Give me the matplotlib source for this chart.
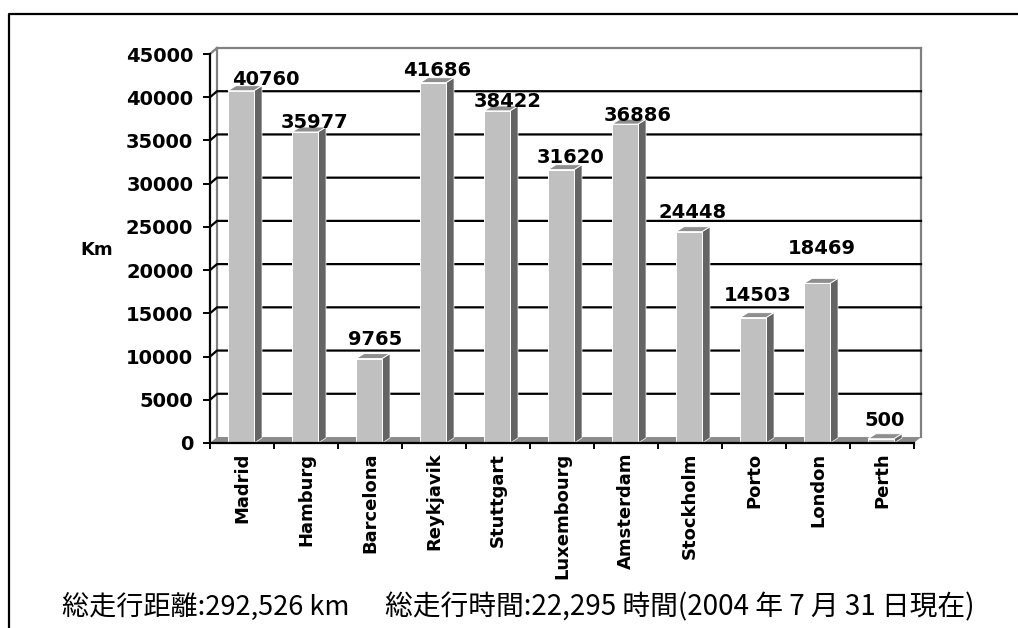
import numpy as np
import matplotlib.pyplot as plt
from matplotlib.patches import Polygon
from matplotlib.lines import Line2D

# distance driven per city (km)
cities = ["Madrid", "Hamburg", "Barcelona", "Reykjavik", "Stuttgart", "Luxembourg",
          "Amsterdam", "Stockholm", "Porto", "London", "Perth"]
km = [40760, 35977, 9765, 41686, 38422, 31620, 36886, 24448, 14503, 18469, 500]
yticks = list(range(0, 45001, 5000))

# label nudges in pixels (x, y) from the top front centre of each column
label_off = [(24, 11), (8, 9), (5, 19), (3, 12), (10, 9), (9, 12),
             (12, 9), (3, 19), (4, 22), (4, 35), (3, 18)]

W, H = 1018, 628
fig = plt.figure(figsize=(W / 100, H / 100), dpi=100)
ax = fig.add_axes([210 / W, (H - 443) / H, 704 / W, 389 / H])
ax.set_xlim(0, 11)
ax.set_ylim(0, 45000)

px_x = 11 / 704          # category units per pixel
px_y = 45000 / 389       # km per pixel
DX, DY = 7 * px_x, 6 * px_y      # wall depth
BX, BY = 8 * px_x, 5 * px_y      # column depth
n = len(cities)

# back wall, side wall and gridlines
wall = dict(color="#808080", lw=1.6, clip_on=False, zorder=1)
ax.plot([DX, DX], [DY, 45000 + DY], **wall)
ax.plot([DX, n + DX], [45000 + DY, 45000 + DY], **wall)
ax.plot([n + DX, n + DX], [DY, 45000 + DY], **wall)
ax.plot([0, DX], [45000, 45000 + DY], **wall)
for t in yticks[1:-1]:
    ax.plot([0, DX, n + DX], [t, t + DY, t + DY], color="black", lw=1.6,
            clip_on=False, zorder=1)

# floor
ax.add_patch(Polygon([(0, 0), (n, 0), (n + DX, DY), (DX, DY)], closed=True,
                     facecolor="#8c8c8c", edgecolor="none", clip_on=False, zorder=2))

# 3d columns
w = 26 * px_x
for i, v in enumerate(km):
    x0 = i + 0.5 - 14 * px_x
    x1 = x0 + w
    front = Polygon([(x0, 0), (x1, 0), (x1, v), (x0, v)], closed=True,
                    facecolor="#c0c0c0", edgecolor="white", lw=0.7, clip_on=False, zorder=3)
    side = Polygon([(x1, 0), (x1 + BX, BY), (x1 + BX, v + BY), (x1, v)], closed=True,
                   facecolor="#646464", edgecolor="white", lw=0.5, clip_on=False, zorder=3)
    top = Polygon([(x0, v), (x1, v), (x1 + BX, v + BY), (x0 + BX, v + BY)], closed=True,
                  facecolor="#8e8e8e", edgecolor="white", lw=0.7, clip_on=False, zorder=3)
    for p in (side, top, front):
        ax.add_patch(p)
    dx, dy = label_off[i]
    ax.annotate(str(v), xy=(i + 0.5, v), xytext=(dx, dy), textcoords="offset pixels",
                ha="center", va="center", fontsize=14, fontweight="bold",
                family="DejaVu Sans", zorder=5, annotation_clip=False)

# axes
for s in ["top", "right"]:
    ax.spines[s].set_visible(False)
for s in ["left", "bottom"]:
    ax.spines[s].set_linewidth(1.6)
    ax.spines[s].set_zorder(4)

ax.set_yticks(yticks)
ax.set_yticklabels([str(t) for t in yticks], fontsize=14, fontweight="bold")
ax.tick_params(axis="y", direction="out", length=5, width=1.4, pad=7)

ax.set_xticks(range(n + 1))
ax.set_xticklabels([])
ax.tick_params(axis="x", which="major", direction="out", length=4.5, width=1.4)
ax.set_xticks(np.arange(n) + 0.5, minor=True)
ax.set_xticklabels(cities, minor=True, rotation=90, fontsize=13, fontweight="bold")
ax.tick_params(axis="x", which="minor", length=0, pad=7)
ax.set_facecolor("none")

fig.text(97 / W, 1 - 250 / H, "Km", ha="center", va="center", fontsize=13,
         fontweight="bold")

# footer
jp = ["Noto Sans CJK JP", "DejaVu Sans"]
fig.text(62 / W, 1 - 607 / H, "総走行距離:292,526 km", ha="left", va="center",
         fontsize=19.5, family=jp)
fig.text(385 / W, 1 - 607 / H, "総走行時間:22,295 時間(2004 年 7 月 31 日現在)",
         ha="left", va="center", fontsize=20, family=jp)

# outer frame
fig.add_artist(Line2D([9 / W, 9 / W, 1], [0, 1 - 14 / H, 1 - 14 / H],
                      transform=fig.transFigure, color="black", lw=1.6))

fig.savefig("out.png", dpi=100, facecolor="white")
